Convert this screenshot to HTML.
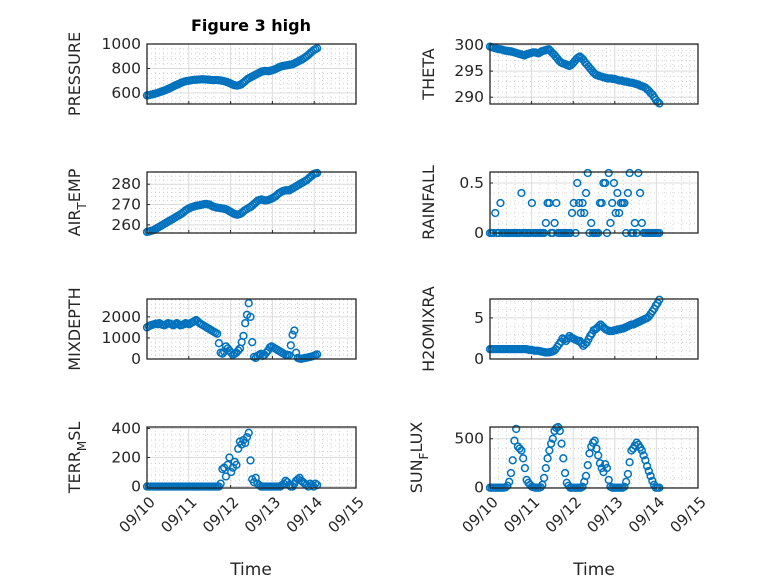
<!DOCTYPE html>
<html><head><meta charset="utf-8"><style>
body{margin:0;background:#fff;}
svg{display:block;font-family:"DejaVu Sans","Liberation Sans",sans-serif;}
</style></head><body>
<svg id="fig" width="778" height="583" viewBox="0 0 778 583">
<rect width="778" height="583" fill="#fff"/>
</svg>
<script>
const dates=["09/10","09/11","09/12","09/13","09/14","09/15"];
const pressure=[580,582,585,588,592,596,600,605,610,615,620,626,632,638,645,652,660,666,672,678,685,690,695,698,700,702,705,707,708,709,710,711,712,711,710,709,708,706,705,705,706,704,703,700,698,694,690,684,678,671,665,662,660,664,668,679,690,702,715,722,730,737,745,752,760,767,775,777,780,779,778,781,785,790,795,802,810,815,820,822,825,827,830,832,835,842,850,857,865,872,880,890,900,912,925,937,950,957,965];
const airTemp=[256.5,256.7,257,257.2,257.5,258,258.5,259,259.5,260,260.5,261,261.5,262,262.5,263,263.5,264,264.5,265,265.5,266.2,267,267.5,268,268.4,268.8,269,269.3,269.5,269.6,269.8,270,270.2,270.3,270.1,270,269.5,269,268.8,268.5,268.4,268.3,268.1,268,267.8,267.5,267,266.5,266,265.5,265.2,265,265.2,265.5,266.2,267,267.5,268,268.5,269,269.8,270.5,271.3,272,272.3,272.5,272.2,272,272.1,272.3,272.6,273,273.5,274,274.8,275.5,276,276.5,276.8,277,277,277,277.5,278,278.5,279,279.5,280,280.5,281,281.5,282,282.8,283.5,284.2,285,285.3,285.5];
const theta=[299.7,299.6,299.5,299.4,299.3,299.2,299.2,299.1,299,298.9,298.9,298.8,298.8,298.7,298.6,298.5,298.4,298.3,298.2,298.1,298,298.2,298.3,298.4,298.5,298.6,298.6,298.5,298.4,298.6,298.8,298.9,299,299.1,299.2,298.9,298.5,298.2,297.8,297.4,297,296.7,296.5,296.4,296.3,296.1,296,296.2,296.5,296.9,297.3,297.6,297.8,297.5,297.2,296.7,296.3,295.9,295.5,295.1,294.7,294.4,294.2,294.1,294,293.9,293.8,293.7,293.6,293.6,293.6,293.5,293.5,293.4,293.3,293.2,293.2,293.1,293,293,292.9,292.8,292.8,292.7,292.6,292.5,292.4,292.2,292.1,292,291.8,291.5,291.2,290.8,290.5,290,289.5,289.1,288.8];
const h2o=[1.2,1.2,1.2,1.2,1.2,1.2,1.2,1.2,1.2,1.2,1.2,1.2,1.2,1.2,1.2,1.2,1.2,1.2,1.2,1.2,1.2,1.2,1.15,1.1,1.1,1.05,1.0,1.0,1.0,0.95,0.9,0.85,0.8,0.8,0.8,0.85,0.9,1.0,1.2,1.5,1.8,2.1,2.5,2.4,2.2,2.5,2.8,2.6,2.5,2.4,2.3,2.2,2.2,1.9,1.6,1.8,2.0,2.4,2.8,3.1,3.5,3.6,3.8,4.0,4.2,4.0,3.8,3.6,3.5,3.4,3.4,3.4,3.5,3.5,3.6,3.6,3.7,3.7,3.8,3.9,4.0,4.1,4.2,4.2,4.3,4.4,4.5,4.6,4.7,4.8,4.9,5.0,5.2,5.5,5.8,6.1,6.5,6.8,7.2];
const mixDepth=[1500,1550,1600,1620,1650,1680,1650,1700,1650,1620,1600,1650,1700,1680,1650,1600,1650,1700,1650,1600,1620,1650,1700,1680,
1650,1700,1750,1800,1850,1780,1700,1650,1600,1550,1500,1450,1400,1350,1300,1250,1200,750,300,250,350,600,500,400,
300,200,250,300,400,500,800,1100,1700,2100,2650,2000,800,100,50,150,200,250,150,200,300,400,550,600,
550,500,450,400,350,300,250,200,200,180,650,1150,1350,300,50,20,10,30,50,60,80,100,120,150,180,220];
const terrMsl=[0,0,0,0,0,0,0,0,0,0,0,0,0,0,0,0,0,0,0,0,0,0,0,0,0,0,0,0,0,0,0,0,0,0,0,0,0,0,0,0,0,0,
20,120,130,70,150,200,100,130,170,150,260,310,290,320,300,340,370,180,
50,30,60,20,10,0,0,0,0,0,0,0,
0,0,0,0,0,10,20,40,30,10,0,0,20,40,50,60,40,30,20,10,0,20,10,0,20,10];
const sunFlux=[0,0,0,0,0,0,0,0,0,5,20,60,150,280,480,600,420,400,380,300,200,80,50,30,
10,5,0,0,0,5,30,100,200,300,380,450,500,580,610,620,580,450,300,150,50,20,0,0,
0,0,0,0,0,10,60,120,230,350,420,460,480,400,330,250,200,160,240,200,80,10,0,0,
0,0,0,0,0,10,60,140,260,380,400,430,460,440,410,380,330,280,220,170,120,70,30,0,0,0];
const rainfall=[0,0,0,0.2,0,0,0.3,0,0,0,0,0,0,0,0,0,0,0,0.4,0,0,0,0,0,
0.3,0,0,0,0,0,0,0,0.1,0.3,0.3,0,0,0.1,0.3,0,0,0,0,0,0,0,0,0.2,
0.3,0,0.5,0.3,0.2,0.3,0.2,0.4,0.6,0,0.1,0,0,0,0,0.3,0.3,0.5,0.5,0,0.6,0.1,0.3,0.5,
0.2,0.4,0.2,0.3,0.3,0.3,0,0.4,0.6,0,0,0.1,0,0.6,0.4,0.1,0,0,0,0,0,0,0,0,0,0];
const tEnd=4.07;
const NS="http://www.w3.org/2000/svg";
const svg=document.getElementById('fig');
function mk(tag,attrs,parent){const e=document.createElementNS(NS,tag);for(const k in attrs)e.setAttribute(k,attrs[k]);(parent||svg).appendChild(e);return e;}
const panels=[
 {n:'pressure',d:pressure,x0:147,x1:356,y0:44,y1:104,ymin:510,ymax:1000,ticks:[600,800,1000],lab:['PRESSURE'],lx:80},
 {n:'theta',d:theta,x0:490,x1:698,y0:44,y1:104,ymin:288.7,ymax:300.2,ticks:[290,295,300],lab:['THETA'],lx:434},
 {n:'air-temp',d:airTemp,x0:147,x1:356,y0:172,y1:233,ymin:256,ymax:286,ticks:[260,270,280],lab:['AIR','T','EMP'],lx:80},
 {n:'rainfall',d:rainfall,x0:490,x1:698,y0:172,y1:233,ymin:0,ymax:0.61,ticks:[0,0.5],lab:['RAINFALL'],lx:434},
 {n:'mixdepth',d:mixDepth,x0:147,x1:356,y0:299,y1:359,ymin:0,ymax:2850,ticks:[0,1000,2000],lab:['MIXDEPTH'],lx:80},
 {n:'h2omixra',d:h2o,x0:490,x1:698,y0:299,y1:359,ymin:0,ymax:7.3,ticks:[0,5],lab:['H2OMIXRA'],lx:434},
 {n:'terr-msl',d:terrMsl,x0:147,x1:356,y0:427,y1:488,ymin:-10,ymax:410,ticks:[0,200,400],lab:['TERR','M','SL'],lx:80,bottom:true},
 {n:'sun-flux',d:sunFlux,x0:490,x1:698,y0:427,y1:488,ymin:-3,ymax:620,ticks:[0,500],lab:['SUN','F','LUX'],lx:422,bottom:true}
];
panels.forEach(p=>{
 const g=mk('g',{});
 
 
 const xs=t=>p.x0+(p.x1-p.x0)*t/5;
 const ys=v=>p.y1-(p.y1-p.y0)*(v-p.ymin)/(p.ymax-p.ymin);
 mk('rect',{x:p.x0,y:p.y0,width:p.x1-p.x0,height:p.y1-p.y0,fill:'#fff'},g);
 for(let i=0;i<25;i++){if(i%5===0)continue;const x=xs(i/5);mk('line',{x1:x,x2:x,y1:p.y0,y2:p.y1,stroke:'#c8c8c8','stroke-width':0.8,'stroke-dasharray':'1 3'},g);}
 const step=p.ticks[1]-p.ticks[0];
 for(let v=p.ticks[0]-step;v<=p.ymax+step;v+=step/5){if(v<p.ymin||v>p.ymax)continue;const y=ys(v);mk('line',{x1:p.x0,x2:p.x1,y1:y,y2:y,stroke:'#c8c8c8','stroke-width':0.8,'stroke-dasharray':'1 3'},g);}
 for(let i=1;i<5;i++){const x=xs(i);mk('line',{x1:x,x2:x,y1:p.y0,y2:p.y1,stroke:'#dcdcdc','stroke-width':1},g);}
 p.ticks.forEach(v=>{const y=ys(v);mk('line',{x1:p.x0,x2:p.x1,y1:y,y2:y,stroke:'#dcdcdc','stroke-width':1},g);
  mk('line',{x1:p.x0,x2:p.x0+3,y1:y,y2:y,stroke:'#262626'},g);
  const t=mk('text',{x:p.x0-6,y:y+5,'text-anchor':'end','font-size':15.5,fill:'#262626'},g);t.textContent=String(v);
  
  });
 for(let i=0;i<=5;i++){const x=xs(i);mk('line',{x1:x,x2:x,y1:p.y1,y2:p.y1-3,stroke:'#262626'},g);
  if(p.bottom){const t=mk('text',{x:x+9,y:p.y1+15,'text-anchor':'end','font-size':15,fill:'#262626',transform:`rotate(-45 ${x+9} ${p.y1+15})`},g);t.textContent=dates[i];
   
   }}
 const n=p.d.length;
 p.d.forEach((v,i)=>{const c=mk('circle',{cx:xs(i*tEnd/(n-1)),cy:ys(v),r:3.4,fill:'none',stroke:'#0072BD','stroke-width':1.5},g);
  
  });
 mk('rect',{x:p.x0,y:p.y0,width:p.x1-p.x0,height:p.y1-p.y0,fill:'none',stroke:'#262626','stroke-width':1.3},g);
 const cy=(p.y0+p.y1)/2;
 const lt=mk('text',{x:p.lx,y:cy,'text-anchor':'middle','font-size':16,fill:'#262626',transform:`rotate(-90 ${p.lx} ${cy})`},g);
 
 
 if(p.lab.length===1){lt.textContent=p.lab[0];}
 else{const a=mk('tspan',{},lt);a.textContent=p.lab[0];const b=mk('tspan',{dy:6,'font-size':12},lt);b.textContent=p.lab[1];const c=mk('tspan',{dy:-6},lt);c.textContent=p.lab[2];}
});
const title=mk('text',{x:251,y:31,'text-anchor':'middle','font-size':16,'font-weight':'bold',fill:'#000'});
title.textContent='Figure 3 high';


[[251,'x-axis-title-left'],[594,'x-axis-title-right']].forEach(a=>{const t=mk('text',{x:a[0],y:575,'text-anchor':'middle','font-size':17,fill:'#262626'});t.textContent='Time';
 
 });
</script>
</body></html>
